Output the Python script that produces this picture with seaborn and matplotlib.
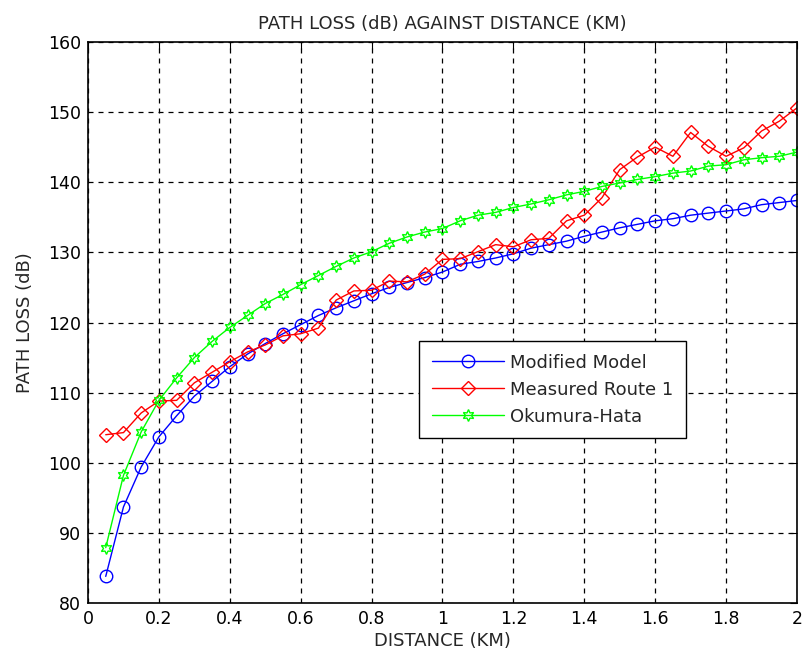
import numpy as np
import pandas as pd
import matplotlib
matplotlib.use("Agg")
import matplotlib.pyplot as plt
import seaborn as sns

distance = [0.05, 0.1, 0.15, 0.2, 0.25, 0.3, 0.35, 0.4, 0.45, 0.5,
            0.55, 0.6, 0.65, 0.7, 0.75, 0.8, 0.85, 0.9, 0.95, 1.0,
            1.05, 1.1, 1.15, 1.2, 1.25, 1.3, 1.35, 1.4, 1.45, 1.5,
            1.55, 1.6, 1.65, 1.7, 1.75, 1.8, 1.85, 1.9, 1.95, 2.0]

modified_model = [83.8, 93.7, 99.4, 103.7, 106.7, 109.5, 111.6, 113.7, 115.5, 117.0,
                  118.4, 119.7, 121.0, 122.1, 123.1, 124.1, 125.0, 125.7, 126.4, 127.2,
                  128.3, 128.7, 129.2, 129.8, 130.6, 131.1, 131.6, 132.3, 132.9, 133.5,
                  134.0, 134.5, 134.8, 135.3, 135.6, 135.9, 136.2, 136.8, 137.1, 137.4]

measured_route1 = [104.0, 104.3, 107.1, 108.8, 108.9, 111.4, 112.9, 114.4, 115.8, 116.8,
                   118.1, 118.4, 119.2, 123.2, 124.5, 124.6, 125.9, 125.8, 126.9, 129.0,
                   129.1, 130.1, 131.1, 130.8, 131.8, 132.0, 134.5, 135.3, 137.8, 141.8,
                   143.6, 145.0, 143.7, 147.1, 145.1, 143.7, 144.9, 147.3, 148.7, 150.6]

okumura_hata = [87.9, 98.2, 104.4, 108.9, 112.1, 115.0, 117.3, 119.3, 121.0, 122.7,
                124.0, 125.4, 126.7, 128.0, 129.2, 130.1, 131.3, 132.2, 132.9, 133.4,
                134.5, 135.3, 135.7, 136.4, 136.9, 137.5, 138.2, 138.7, 139.4, 139.9,
                140.4, 140.8, 141.3, 141.6, 142.3, 142.5, 143.2, 143.5, 143.7, 144.3]

series_names = ["Modified Model", "Measured Route 1", "Okumura-Hata"]
x_ticks = [0, 0.2, 0.4, 0.6, 0.8, 1, 1.2, 1.4, 1.6, 1.8, 2]
x_tick_labels = ["0", "0.2", "0.4", "0.6", "0.8", "1", "1.2", "1.4", "1.6", "1.8", "2"]
y_ticks = [80, 90, 100, 110, 120, 130, 140, 150, 160]

series_values = [modified_model, measured_route1, okumura_hata]

sns.set_style("white")
plt.rcParams["font.family"] = ["DejaVu Sans"]

fig = plt.figure(figsize=(8.03, 6.61), dpi=100)
ax = fig.add_axes([0.1096, 0.0877, 0.8829, 0.8488])

colors = ["#0000ff", "#ff0000", "#00ff00"]
marker_list = ["o", "D", (6, 1, 0)]
marker_sizes = [9, 7.5, 8.5]

for name, vals, col, mk, ms in zip(series_names, series_values, colors, marker_list, marker_sizes):
    d = pd.DataFrame({"distance": distance, "loss": vals})
    sns.lineplot(data=d, x="distance", y="loss", color=col, marker=mk,
                 markersize=ms, markerfacecolor="none", markeredgecolor=col,
                 markeredgewidth=1.0, linewidth=1.0, linestyle="-",
                 label=name, ax=ax)

ax.set_xlim(0, 2)
ax.set_ylim(80, 160)
ax.set_xticks(x_ticks)
ax.set_xticklabels(x_tick_labels)
ax.set_yticks(y_ticks)
ax.grid(True, color="black", linestyle=(0, (4, 4)), linewidth=0.9)
ax.tick_params(direction="in", length=5, labelsize=12.5, top=True, right=True,
               colors="black", width=0.8, pad=5)
for s in ax.spines.values():
    s.set_visible(True)
    s.set_color("black")
    s.set_linewidth(1.2)

ax.set_title("PATH LOSS (dB) AGAINST DISTANCE (KM)", fontsize=13, pad=9)
ax.set_xlabel("DISTANCE (KM)", fontsize=13, labelpad=3)
ax.set_ylabel("PATH LOSS (dB)", fontsize=13, labelpad=10)

handles, labels = ax.get_legend_handles_labels()
leg = ax.legend(handles, labels, loc="upper left", bbox_to_anchor=(0.467, 0.467),
                borderaxespad=0, fontsize=13, frameon=True, fancybox=False,
                edgecolor="black", borderpad=0.7, handlelength=4.0,
                handletextpad=0.35, labelspacing=0.5)
leg.get_frame().set_linewidth(1.0)
leg.get_frame().set_alpha(1)

fig.savefig("out.png", dpi=100)
